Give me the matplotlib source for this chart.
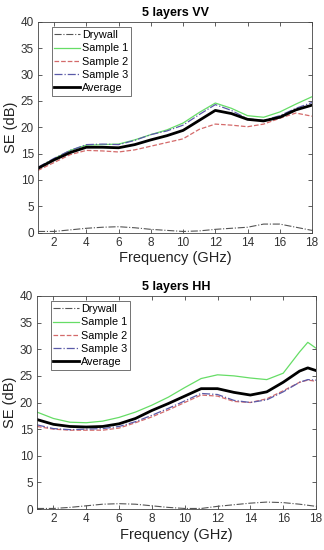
import matplotlib
matplotlib.use("Agg")
import matplotlib.pyplot as plt

plt.rcParams['font.family'] = ['Liberation Sans', 'DejaVu Sans']

freq_vv = [1, 2, 3, 4, 5, 6, 7, 8, 9, 10, 11, 12, 13, 14, 15, 16, 17, 18]
vv_drywall = [0.2, 0.2, 0.5, 0.8, 1.0, 1.1, 0.9, 0.6, 0.4, 0.2, 0.3, 0.6, 0.8, 1.0, 1.6, 1.6, 1.0, 0.4]
vv_s1 = [12.3, 14.0, 15.6, 16.6, 16.7, 16.8, 17.6, 18.6, 19.5, 20.8, 22.8, 24.6, 23.6, 22.2, 21.9, 22.9, 24.4, 25.8]
vv_s2 = [11.8, 13.3, 14.8, 15.6, 15.5, 15.3, 15.7, 16.4, 17.1, 17.8, 19.6, 20.6, 20.4, 20.1, 20.6, 21.7, 22.7, 22.1]
vv_s3 = [12.4, 14.1, 15.6, 16.7, 16.8, 16.7, 17.5, 18.6, 19.3, 20.4, 22.4, 24.3, 23.2, 21.6, 21.3, 22.2, 23.6, 24.7]
vv_avg = [12.2, 13.8, 15.2, 16.2, 16.2, 16.1, 16.7, 17.6, 18.4, 19.4, 21.3, 23.2, 22.6, 21.5, 21.2, 21.9, 23.3, 24.2]

freq_hh = [1, 2, 3, 4, 5, 6, 7, 8, 9, 10, 11, 12, 13, 14, 15, 16, 17, 17.5, 18]
hh_drywall = [0.1, 0.1, 0.3, 0.6, 0.9, 1.0, 0.9, 0.6, 0.3, 0.1, 0.1, 0.5, 0.8, 1.1, 1.3, 1.2, 0.9, 0.7, 0.5]
hh_s1 = [18.2, 17.0, 16.3, 16.2, 16.5, 17.2, 18.2, 19.5, 21.0, 22.8, 24.5, 25.2, 25.0, 24.6, 24.3, 25.5, 29.5, 31.3, 30.2]
hh_s2 = [15.5, 15.0, 14.8, 14.8, 14.8, 15.2, 16.2, 17.3, 18.6, 20.0, 21.4, 21.2, 20.2, 20.0, 20.7, 22.2, 23.8, 24.2, 24.0]
hh_s3 = [15.8, 15.1, 14.9, 15.0, 15.1, 15.5, 16.4, 17.6, 18.9, 20.3, 21.7, 21.5, 20.4, 20.0, 20.5, 22.0, 23.8, 24.3, 24.2]
hh_avg = [16.8, 15.9, 15.5, 15.4, 15.5, 16.0, 17.0, 18.5, 19.8, 21.2, 22.6, 22.6, 21.9, 21.4, 22.0, 23.8, 25.9, 26.5, 26.0]

labels = ['Drywall', 'Sample 1', 'Sample 2', 'Sample 3', 'Average']
xticks = [2, 4, 6, 8, 10, 12, 14, 16, 18]
yticks = [0, 5, 10, 15, 20, 25, 30, 35, 40]

styles = [
    dict(color='#555555', ls='-.', lw=0.8),
    dict(color='#66dd66', ls='-', lw=0.9),
    dict(color='#d46a6a', ls='--', lw=0.9),
    dict(color='#5a5aa8', ls='-.', lw=0.9),
    dict(color='black', ls='-', lw=2.0),
]

fig = plt.figure(figsize=(3.24, 5.5), dpi=100)
ax1 = fig.add_axes([38/324, 1-232.5/550, (312-38)/324, (232.5-22)/550])
ax2 = fig.add_axes([37/324, 1-509/550, (316-37)/324, (509-296)/550])

def draw(ax, x, series, title):
    for s, lab, st in zip(series, labels, styles):
        ax.plot(x, s, label=lab, **st)
    ax.set_xlim(1, 18)
    ax.set_ylim(0, 40)
    ax.set_xticks(xticks)
    ax.set_yticks(yticks)
    ax.tick_params(direction='in', top=True, right=True, length=3, width=0.6,
                   labelsize=8.5, labelcolor='#333333', color='#444444', pad=3)
    for sp in ax.spines.values():
        sp.set_color('#444444')
        sp.set_linewidth(0.6)
    ax.set_title(title, fontsize=9, fontweight='bold', pad=4)
    ax.set_xlabel('Frequency (GHz)', fontsize=10.5, color='#222222', labelpad=2)
    ax.set_ylabel('SE (dB)', fontsize=10.5, color='#222222', labelpad=2)
    leg = ax.legend(loc='upper left', fontsize=7.8, frameon=True, fancybox=False,
                    edgecolor='#333333', handlelength=2.4, handletextpad=0.15,
                    borderpad=0.25, labelspacing=0.3, borderaxespad=0.5,
                    bbox_to_anchor=(0.03, 1.0))
    leg.get_frame().set_linewidth(0.6)

draw(ax1, freq_vv, [vv_drywall, vv_s1, vv_s2, vv_s3, vv_avg], '5 layers VV')
draw(ax2, freq_hh, [hh_drywall, hh_s1, hh_s2, hh_s3, hh_avg], '5 layers HH')

fig.savefig('out.png', dpi=100)
